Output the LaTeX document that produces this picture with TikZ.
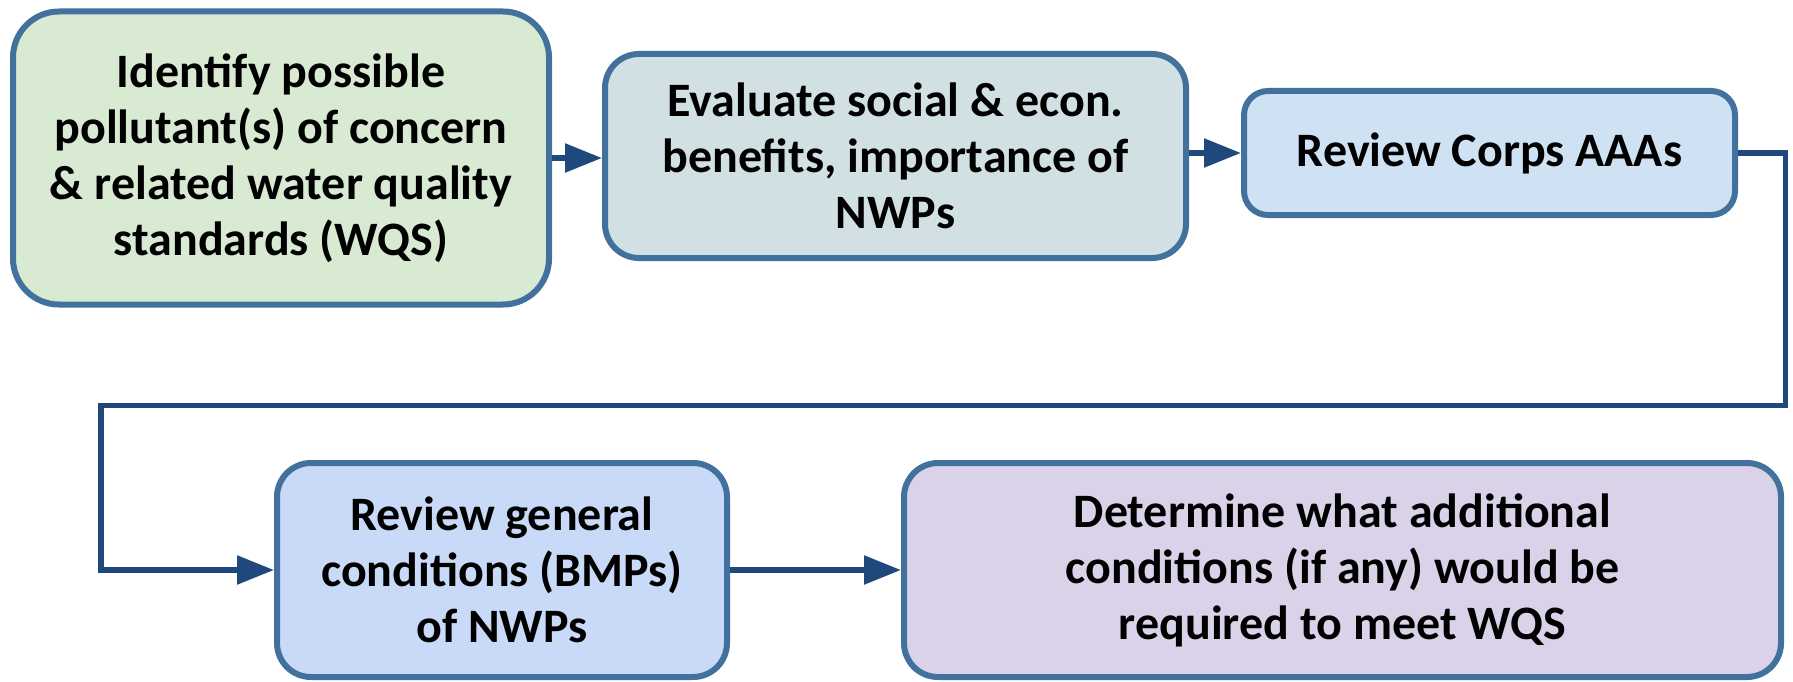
\documentclass[tikz,border=0pt]{standalone}
\usepackage{fontspec}
\setmainfont{Carlito}
\usetikzlibrary{arrows.meta}
\definecolor{bordc}{HTML}{41719C}
\definecolor{arrc}{HTML}{1F497D}
\definecolor{fillA}{HTML}{D9EAD3}
\definecolor{fillB}{HTML}{D0E0E3}
\definecolor{fillC}{HTML}{CFE2F3}
\definecolor{fillD}{HTML}{C9DAF8}
\definecolor{fillE}{HTML}{D9D2E9}
\tikzset{
  stepbox/.style={draw=bordc, line width=6pt, align=center, inner sep=0pt,
    font=\fontsize{48}{56}\selectfont\bfseries, text=black},
  arr/.style={draw=arrc, line width=5.5pt, -{Triangle[length=37pt,width=28pt]}},
  conn/.style={draw=arrc, line width=5.5pt}
}
\begin{document}
\begin{tikzpicture}[x=1pt,y=-1pt]
\useasboundingbox (0,0) rectangle (1793,682);
\node[stepbox, fill=fillA, rounded corners=46pt, minimum width=536pt, minimum height=293pt] (b1) at (281,158)
  {Identify possible\\pollutant(s) of concern\\\& related water quality\\standards (WQS)};
\node[stepbox, fill=fillB, rounded corners=34pt, minimum width=581pt, minimum height=204pt] (b2) at (895.5,156)
  {Evaluate social \& econ.\\benefits, importance of\\NWPs};
\node[stepbox, fill=fillC, rounded corners=24pt, minimum width=491pt, minimum height=124pt] (b3) at (1489.5,153)
  {Review Corps AAAs};
\node[stepbox, fill=fillD, rounded corners=34pt, minimum width=450pt, minimum height=214pt] (b4) at (502,570)
  {Review general\\conditions (BMPs)\\of NWPs};
\node[stepbox, fill=fillE, rounded corners=34pt, minimum width=877pt, minimum height=214pt] (b5) at (1342.5,570)
  {Determine what additional\\conditions (if any) would be\\required to meet WQS};
\coordinate (r) at (1785.5,405.5);
\coordinate (l) at (101,405.5);
\draw[arr] (b1.east) -- (b1.east -| b2.west);
\draw[arr] (b3.west -| b2.east) -- (b3.west);
\draw[conn, line join=miter] (b3.east) -| (r) -- (l) -- (l |- b4.west);
\draw[arr] ([yshift=2.75pt]l |- b4.west) |- (b4.west);
\draw[arr] (b4.east) -- (b5.west);
\end{tikzpicture}
\end{document}
